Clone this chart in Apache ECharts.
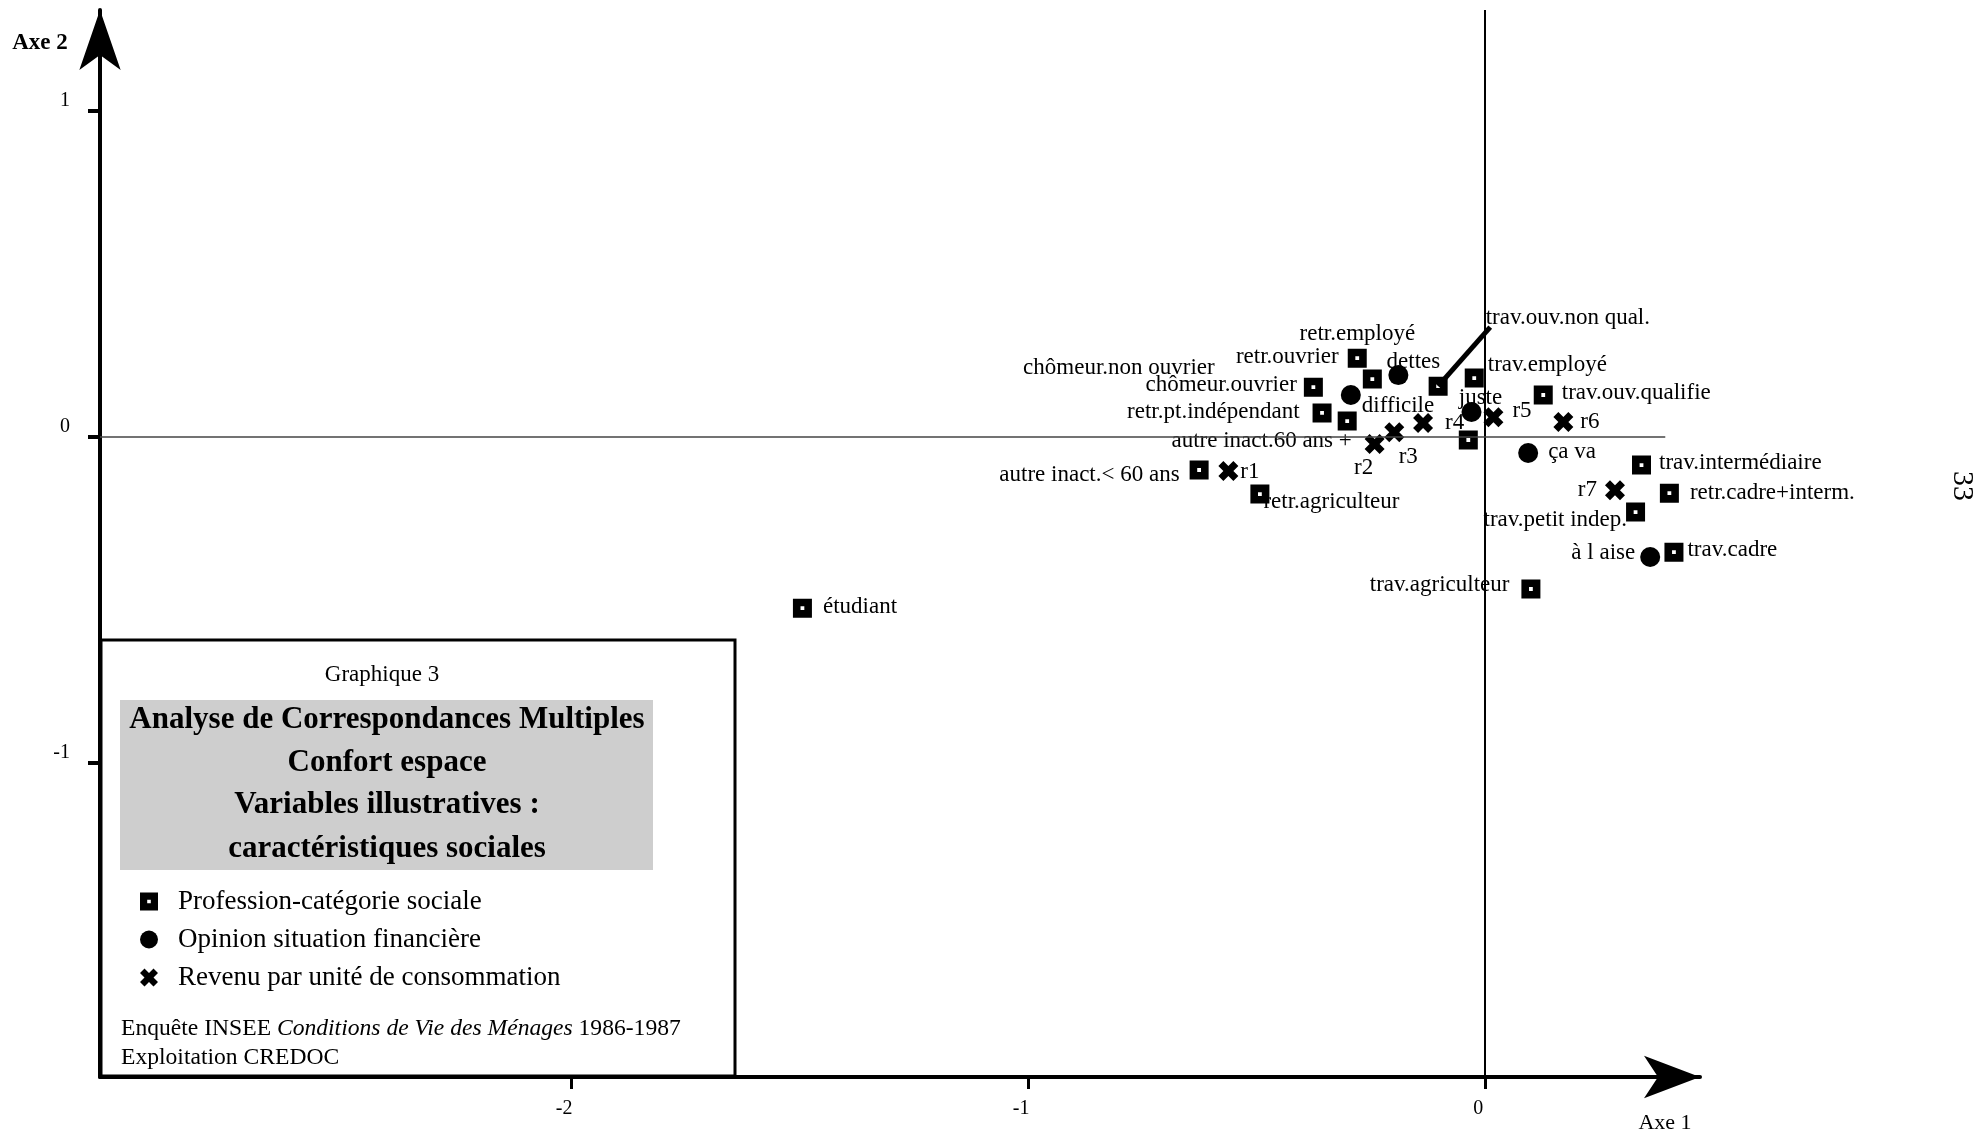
<!DOCTYPE html>
<html><head><meta charset="utf-8">
<script src="https://cdn.jsdelivr.net/npm/echarts@6/dist/echarts.min.js"></script>
<style>html,body{margin:0;padding:0;background:#fff}#c{width:1978px;height:1135px}</style>
</head><body><div id="c"></div>
<script>
const FONT = "'Liberation Serif','Times New Roman',serif";

// ---- Data (coordinates on Axe 1 / Axe 2) ----
const professionNames = ['retr.employé','retr.ouvrier','chômeur.ouvrier','retr.pt.indépendant','chômeur.non ouvrier',
  'trav.ouv.non qual.','trav.employé','trav.ouv.qualifie','autre inact.60 ans +','autre inact.< 60 ans',
  'retr.agriculteur','trav.intermédiaire','retr.cadre+interm.','trav.petit indep.','trav.cadre','trav.agriculteur','étudiant'];
const professionX = [-0.247,-0.280,-0.376,-0.357,-0.302,-0.103,-0.024,0.127,-0.037,-0.626,-0.493,0.342,0.403,0.329,0.413,0.100,-1.494];
const professionY = [0.178,0.242,0.153,0.074,0.049,0.156,0.181,0.129,-0.009,-0.101,-0.175,-0.086,-0.172,-0.230,-0.353,-0.466,-0.525];

const opinionNames = ['dettes','difficile','juste','ça va','à l aise'];
const opinionX = [-0.190,-0.294,-0.030,0.094,0.361];
const opinionY = [0.190,0.129,0.077,-0.049,-0.368];

const revenuNames = ['r1','r2','r3','r4','r5','r6','r7'];
const revenuX = [-0.562,-0.242,-0.199,-0.136,0.018,0.171,0.284];
const revenuY = [-0.104,-0.021,0.015,0.043,0.061,0.046,-0.163];

const xTicks = [-2,-1,0];
const yTicks = [-1,0,1];
const seriesNames = ['Profession-catégorie sociale','Opinion situation financière','Revenu par unité de consommation'];

// ---- Layout / style ----
const X_MIN = -3.031, X_MAX = 0.470, Y_MIN = -1.963, Y_MAX = 1.31;
const labelPlacement = {
  'retr.employé':['top',-15,-19],'retr.ouvrier':['left',-4,-1],'chômeur.ouvrier':['left',-2,-2],
  'retr.pt.indépendant':['left',-8,-1],'chômeur.non ouvrier':['left',-118,-53],'trav.ouv.non qual.':['right',33,-68],
  'trav.employé':['right',-1,-13],'trav.ouv.qualifie':['right',4,-2],'autre inact.60 ans +':['left',-102,1],
  'autre inact.< 60 ans':['left',-5,5],'retr.agriculteur':['right',-11,8],'trav.intermédiaire':['right',3,-2],
  'retr.cadre+interm.':['right',6,0],'trav.petit indep.':['left',6,8],'trav.cadre':['right',-1,-2],
  'trav.agriculteur':['left',-7,-4],'étudiant':['right',6,-1],
  'dettes':['top',15,13],'difficile':['right',-4,11],'juste':['top',9,12],'ça va':['right',5,-1],'à l aise':['left',0,-4],
  'r1':['right',-3,1],'r2':['bottom',-11,-2],'r3':['bottom',14,-2],'r4':['right',7,0],'r5':['right',4,-6],'r6':['right',2,0],'r7':['left',-3,0]
};
const SQUARE = 'path://M0,0L20,0L20,20L0,20Z M8,8L8,12L12,12L12,8Z';
const CROSS = 'path://M0,5L5,0L10,5L15,0L20,5L15,10L20,15L15,20L10,15L5,20L0,15L5,10Z';

function build(names, xs, ys) {
  return names.map((n, i) => {
    const p = labelPlacement[n] || ['right', 0, 0];
    return { name: n, value: [xs[i], ys[i]], label: { position: p[0], offset: [p[1], p[2]] } };
  });
}
const labelStyle = { show: true, formatter: '{b}', fontFamily: FONT, fontSize: 23, color: '#000' };

const leadIdx = professionNames.indexOf('trav.ouv.non qual.');

const chart = echarts.init(document.getElementById('c'), null, { renderer: 'canvas' });
chart.setOption({
  animation: false,
  backgroundColor: '#fff',
  grid: { left: 100, top: 10, right: 278, bottom: 58 },
  xAxis: {
    type: 'value', min: X_MIN, max: X_MAX,
    axisLine: { show: true, onZero: false, lineStyle: { color: '#000', width: 4 }, symbol: ['none', 'arrow'], symbolSize: [32, 56] },
    axisTick: { show: true, customValues: xTicks, length: 12, lineStyle: { color: '#000', width: 3 } },
    axisLabel: { customValues: xTicks, margin: 22, fontFamily: FONT, fontSize: 20, color: '#000', padding: [0, 14, 0, 0] },
    splitLine: { show: false }
  },
  yAxis: {
    type: 'value', min: Y_MIN, max: Y_MAX,
    axisLine: { show: true, onZero: false, lineStyle: { color: '#000', width: 4 }, symbol: ['none', 'arrow'], symbolSize: [31, 60] },
    axisTick: { show: true, customValues: yTicks, length: 12, lineStyle: { color: '#000', width: 4 } },
    axisLabel: { customValues: yTicks, margin: 30, fontFamily: FONT, fontSize: 20, color: '#000', verticalAlign: 'bottom', lineHeight: 20 },
    splitLine: { show: false }
  },
  legend: {
    orient: 'vertical', left: 135, top: 883, itemGap: 11, itemWidth: 18, itemHeight: 18, selectedMode: false,
    textStyle: { fontFamily: FONT, fontSize: 27, color: '#000', padding: [0, 0, 0, 15] },
    data: [{ name: seriesNames[0], icon: SQUARE }, { name: seriesNames[1], icon: 'circle' }, { name: seriesNames[2], icon: CROSS }]
  },
  series: [
    {
      type: 'scatter', name: 'axes', data: [], silent: true, z: 1,
      markLine: {
        silent: true, symbol: 'none', label: { show: false }, animation: false,
        data: [
          [{ coord: [0, Y_MIN], lineStyle: { color: '#000', width: 2, type: 'solid' } }, { coord: [0, Y_MAX] }],
          [{ coord: [X_MIN, 0], lineStyle: { color: '#444', width: 1.5, type: 'solid' } }, { coord: [0.394, 0] }],
          [{ coord: [professionX[leadIdx], professionY[leadIdx]], lineStyle: { color: '#000', width: 5, type: 'solid' } }, { coord: [0.011, 0.337] }]
        ]
      }
    },
    { type: 'scatter', name: seriesNames[0], z: 3, symbol: SQUARE, symbolSize: 19, itemStyle: { color: '#000', opacity: 1 },
      label: labelStyle, data: build(professionNames, professionX, professionY) },
    { type: 'scatter', name: seriesNames[1], z: 3, symbol: 'circle', symbolSize: 20, itemStyle: { color: '#000', opacity: 1 },
      label: labelStyle, data: build(opinionNames, opinionX, opinionY) },
    { type: 'scatter', name: seriesNames[2], z: 3, symbol: CROSS, symbolSize: 20, itemStyle: { color: '#000', opacity: 1 },
      label: labelStyle, data: build(revenuNames, revenuX, revenuY) }
  ],
  graphic: [
    { type: 'rect', z: 1, shape: { x: 101, y: 640, width: 634, height: 436 }, style: { fill: '#fff', stroke: '#000', lineWidth: 3 } },
    { type: 'rect', z: 2, shape: { x: 120, y: 700, width: 533, height: 170 }, style: { fill: '#cecece' } },
    { type: 'text', z: 3, x: 382, y: 675, style: { text: 'Graphique 3', fontFamily: FONT, fontSize: 23, fill: '#000', align: 'center', verticalAlign: 'middle' } },
    { type: 'text', z: 3, x: 387, y: 720, style: { text: 'Analyse de Correspondances Multiples', fontFamily: FONT, fontWeight: 'bold', fontSize: 31, fill: '#000', align: 'center', verticalAlign: 'middle' } },
    { type: 'text', z: 3, x: 387, y: 763, style: { text: 'Confort espace', fontFamily: FONT, fontWeight: 'bold', fontSize: 31, fill: '#000', align: 'center', verticalAlign: 'middle' } },
    { type: 'text', z: 3, x: 387, y: 805, style: { text: 'Variables illustratives :', fontFamily: FONT, fontWeight: 'bold', fontSize: 31, fill: '#000', align: 'center', verticalAlign: 'middle' } },
    { type: 'text', z: 3, x: 387, y: 849, style: { text: 'caractéristiques sociales', fontFamily: FONT, fontWeight: 'bold', fontSize: 31, fill: '#000', align: 'center', verticalAlign: 'middle' } },
    { type: 'text', z: 3, x: 121, y: 1029, style: { text: 'Enquête INSEE {i|Conditions de Vie des Ménages} 1986-1987', fontFamily: FONT, fontSize: 23.6, fill: '#000', align: 'left', verticalAlign: 'middle',
        rich: { i: { fontFamily: FONT, fontSize: 23.6, fontStyle: 'italic', fill: '#000' } } } },
    { type: 'text', z: 3, x: 121, y: 1058, style: { text: 'Exploitation CREDOC', fontFamily: FONT, fontSize: 23.6, fill: '#000', align: 'left', verticalAlign: 'middle' } },
    { type: 'text', z: 3, x: 40, y: 43, style: { text: 'Axe 2', fontFamily: FONT, fontWeight: 'bold', fontSize: 23, fill: '#000', align: 'center', verticalAlign: 'middle' } },
    { type: 'text', z: 3, x: 1665, y: 1123, style: { text: 'Axe 1', fontFamily: FONT, fontSize: 22, fill: '#000', align: 'center', verticalAlign: 'middle' } },
    { type: 'text', z: 3, x: 1962, y: 486, rotation: -Math.PI / 2, style: { text: '33', fontFamily: FONT, fontSize: 30, fill: '#000', align: 'center', verticalAlign: 'middle' } }
  ]
});
</script>
</body></html>
